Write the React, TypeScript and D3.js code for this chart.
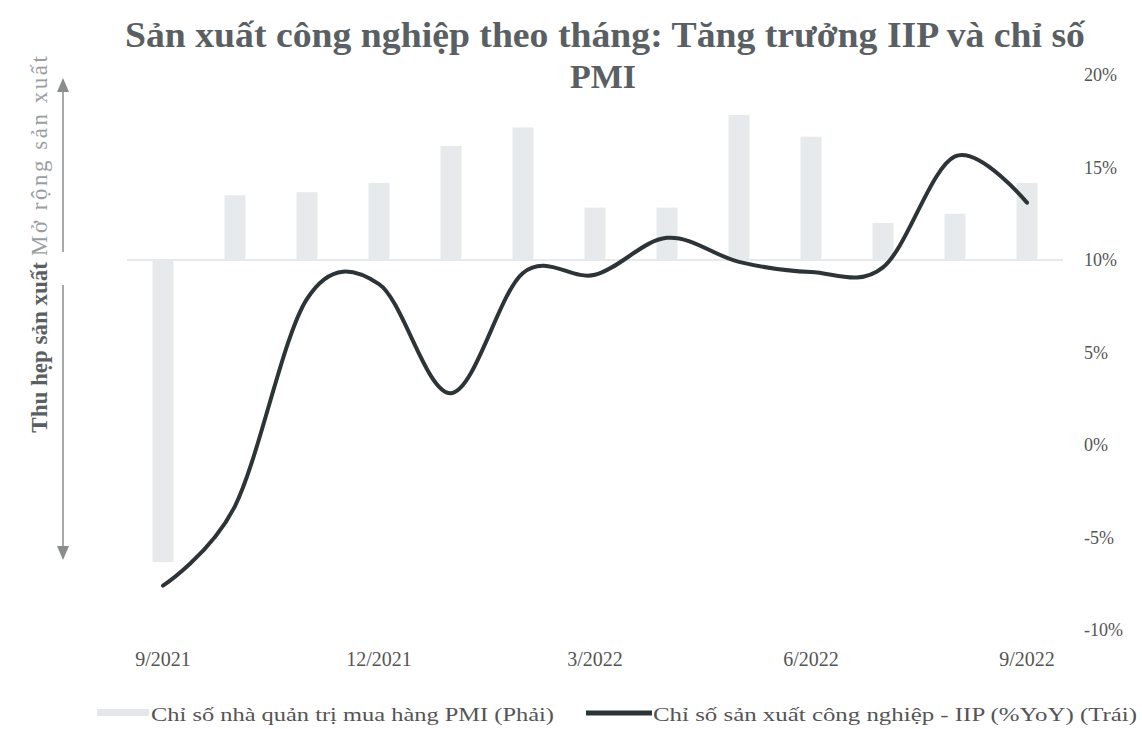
import React from "react";
import * as d3 from "d3";

const months = ["9/2021","10/2021","11/2021","12/2021","1/2022","2/2022","3/2022","4/2022","5/2022","6/2022","7/2022","8/2022","9/2022"];
const pmiValues = [40.2, 52.1, 52.2, 52.5, 53.7, 54.3, 51.7, 51.7, 54.7, 54.0, 51.2, 51.5, 52.5];
const iipValues = [-7.6, -3.3, 7.9, 8.7, 2.8, 9.3, 9.2, 11.2, 9.9, 9.35, 9.6, 15.6, 13.1];
const xTickLabels = ["9/2021", "12/2021", "3/2022", "6/2022", "9/2022"];
const rightTicks = [20, 15, 10, 5, 0, -5, -10];
const pmiBase = 50;

const titleLine1 = "Sản xuất công nghiệp theo tháng: Tăng trưởng IIP và chỉ số";
const titleLine2 = "PMI";
const legendPmi = "Chỉ số nhà quản trị mua hàng PMI (Phải)";
const legendIip = "Chỉ số sản xuất công nghiệp - IIP (%YoY) (Trái)";
const leftLow = "Thu hẹp sản xuất";
const leftHigh = "Mở rộng sản xuất";

const FONT = "'Liberation Serif', 'Times New Roman', serif";

export default function App() {
  const W = 1142, H = 729;
  const x = d3.scalePoint<string>().domain(months).range([163, 1027]);
  const yPct = d3.scaleLinear().domain([-10, 20]).range([630, 75]);
  const yPmi = d3.scaleLinear().domain([38, 56]).range([630, 75]);
  const line = d3
    .line<number>()
    .x((_, i) => x(months[i]) as number)
    .y((d) => yPct(d))
    .curve(d3.curveCardinal.tension(0));
  const barW = 21;

  return (
    <svg width={W} height={H} style={{ position: "absolute", left: 0, top: 0, background: "#fff" }}>
      <rect x={0} y={0} width={W} height={H} fill="#fff" />
      {/* title */}
      <text x={605} y={47} textAnchor="middle" fontFamily={FONT} fontWeight="bold" fontSize={36}
        fill="#5a5f63" textLength={960} lengthAdjust="spacingAndGlyphs">{titleLine1}</text>
      <text x={603} y={88} textAnchor="middle" fontFamily={FONT} fontWeight="bold" fontSize={34}
        fill="#5a5f63">{titleLine2}</text>

      {/* baseline gridline at PMI 50 */}
      <line x1={127} x2={1063} y1={yPmi(pmiBase)} y2={yPmi(pmiBase)} stroke="#dfe3e6" strokeWidth={1.5} />

      {/* bars */}
      {pmiValues.map((v, i) => {
        const y0 = yPmi(pmiBase), y1 = yPmi(v);
        return (
          <rect key={i} x={(x(months[i]) as number) - barW / 2} y={Math.min(y0, y1)}
            width={barW} height={Math.abs(y1 - y0)} fill="#e6eaed" />
        );
      })}

      {/* line */}
      <path d={line(iipValues) || ""} fill="none" stroke="#2d3438" strokeWidth={4} strokeLinecap="round" strokeLinejoin="round" />

      {/* right axis labels */}
      {rightTicks.map((t) => (
        <text key={t} x={1084} y={yPct(t)} dy="0.35em" fontFamily={FONT} fontSize={18} fill="#555">{t}%</text>
      ))}

      {/* x labels */}
      {xTickLabels.map((m) => (
        <text key={m} x={x(m) as number} y={666} textAnchor="middle" fontFamily={FONT} fontSize={20} fill="#555">{m}</text>
      ))}

      {/* left annotation arrows */}
      <line x1={63} x2={63} y1={252} y2={90} stroke="#8a8d90" strokeWidth={1.5} />
      <path d="M63,78 L57,92 L69,92 Z" fill="#8a8d90" />
      <line x1={63} x2={63} y1={285} y2={548} stroke="#8a8d90" strokeWidth={1.5} />
      <path d="M63,560 L57,546 L69,546 Z" fill="#8a8d90" />
      <g transform="translate(47,262) rotate(-90)">
        <text x={0} y={0} textAnchor="end" fontFamily={FONT} fontWeight="bold" fontSize={23} fill="#5a5f63">{leftLow}</text>
        <text x={6} y={0} textAnchor="start" fontFamily={FONT} fontSize={23} fill="#9a9ea2" letterSpacing={2.5}>{leftHigh}</text>
      </g>

      {/* legend */}
      <rect x={97} y={709} width={52} height={7} fill="#e3e7ea" />
      <text x={151} y={721} fontFamily={FONT} fontSize={19} fill="#555" textLength={403} lengthAdjust="spacingAndGlyphs">{legendPmi}</text>
      <line x1={586} x2={652} y1={713} y2={713} stroke="#2d3438" strokeWidth={5} />
      <text x={653} y={721} fontFamily={FONT} fontSize={19} fill="#555" textLength={484} lengthAdjust="spacingAndGlyphs">{legendIip}</text>
    </svg>
  );
}
